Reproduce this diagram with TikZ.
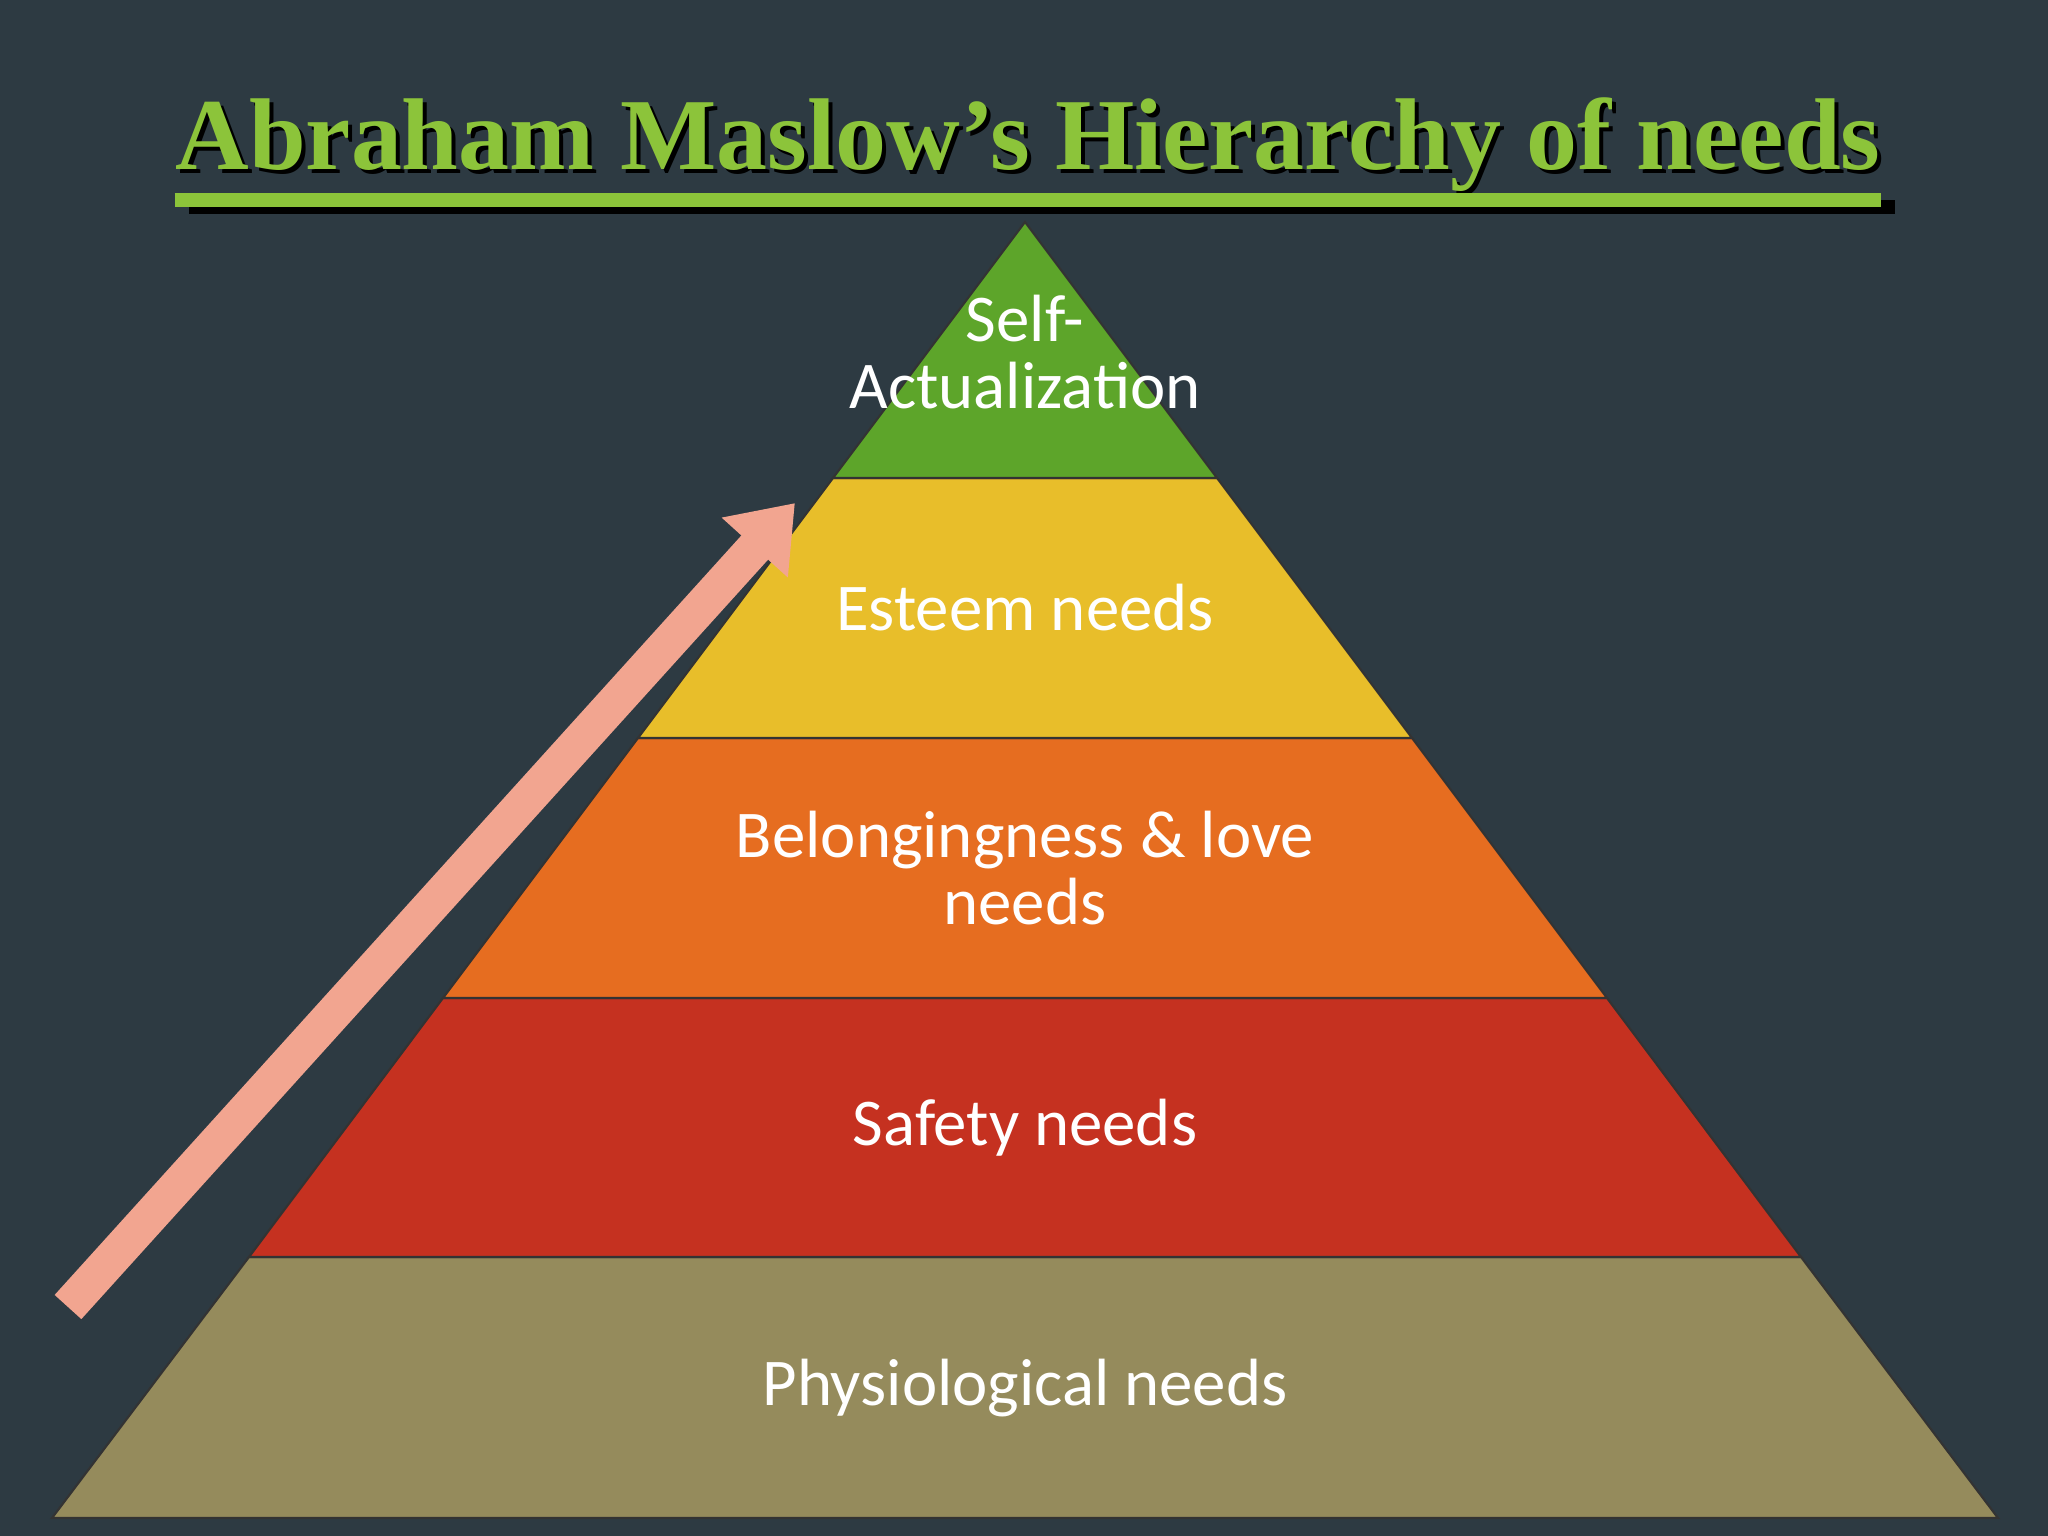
\documentclass[tikz,border=0pt]{standalone}
\usepackage{fontspec}
\setmainfont{Liberation Serif}
\newfontfamily\lblfont{Carlito}
\usetikzlibrary{arrows.meta}
\definecolor{bg}{HTML}{2D3A42}
\definecolor{lvA}{HTML}{5DA52A}
\definecolor{lvB}{HTML}{E8BE2A}
\definecolor{lvC}{HTML}{E66D20}
\definecolor{lvD}{HTML}{C53120}
\definecolor{lvE}{HTML}{958B5C}
\definecolor{ttl}{HTML}{8CC43A}
\definecolor{arr}{HTML}{F2A590}
\tikzset{x=0.01cm,y=-0.01cm,
 lvl/.style={draw=black!80,line width=0.6pt},
 lbl/.style={text=white,font=\lblfont\fontsize{19}{19}\selectfont,align=center}}
\begin{document}
\begin{tikzpicture}
\fill[bg] (0,0) rectangle (2048,1536);
\useasboundingbox (0,0) rectangle (2048,1536);
\node[text=black,font=\bfseries\fontsize{29}{34}\selectfont,inner sep=0pt] (tsh) at (1032,149) {Abraham Maslow's Hierarchy of needs};
\node[text=ttl,font=\bfseries\fontsize{29}{34}\selectfont,inner sep=0pt] (title) at (1028,145) {Abraham Maslow's Hierarchy of needs};
\draw[black,line width=4pt] ([yshift=-4pt,xshift=4pt]title.south west) -- ([yshift=-4pt,xshift=4pt]title.south east);
\draw[ttl,line width=4pt] ([yshift=-2pt]title.south west) -- ([yshift=-2pt]title.south east);
\fill[lvE,lvl] (249,1257) -- (1801,1257) -- (1998,1518) -- (52,1518) -- cycle;
\fill[lvD,lvl] (443,998) -- (1607,998) -- (1801,1257) -- (249,1257) -- cycle;
\fill[lvC,lvl] (638,738) -- (1412,738) -- (1607,998) -- (443,998) -- cycle;
\fill[lvB,lvl] (833,478) -- (1217,478) -- (1412,738) -- (638,738) -- cycle;
\fill[lvA,lvl] (1025,222) -- (1217,478) -- (833,478) -- cycle;
\node[lbl] (n1) at (1025,352) {Self-\\Actualization};
\node[lbl] (n2) at (1025,608) {Esteem needs};
\node[lbl] (n3) at (1025,868) {Belongingness \& love\\needs};
\node[lbl] (n4) at (1025,1128) {Safety needs};
\node[lbl] (n5) at (1025,1388) {Physiological needs};
\coordinate (a0) at (68,1307);
\coordinate (a1) at (795,503);
\draw[arr,line width=0.36cm,-{Triangle[width=0.85cm,length=0.6cm]}] (a0) -- (a1);
\end{tikzpicture}
\end{document}
